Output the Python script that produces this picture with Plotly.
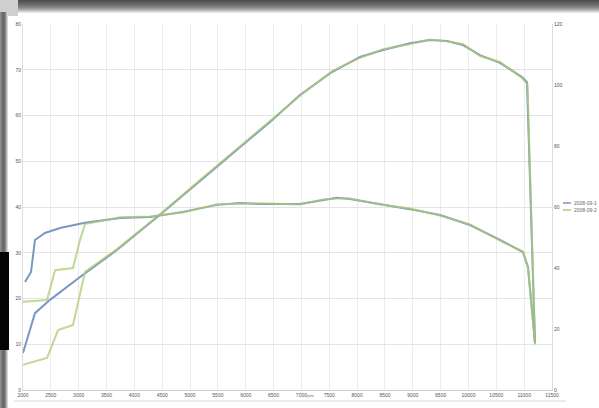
import plotly.graph_objects as go

# ---- data ----
rpm_labels = list(range(2000, 12000, 500))

run1_power_rpm = [2000, 2215, 2485, 3024, 3688, 4460, 5179, 5843, 6436, 6974, 7549, 8052, 8465, 8950, 9309, 9614, 9902, 10207, 10566, 10961, 11051, 11195]
run1_power_hp = [8.1, 16.8, 19.7, 24.7, 30.6, 38.3, 45.7, 52.5, 58.6, 64.5, 69.5, 72.8, 74.3, 75.8, 76.5, 76.3, 75.4, 73.2, 71.5, 68.4, 67.3, 10.3]

run1_torque_rpm = [2036, 2144, 2215, 2395, 2664, 3113, 3742, 4281, 4873, 5484, 5897, 6256, 6974, 7387, 7639, 7872, 8411, 8950, 9489, 10027, 10566, 10979, 11069, 11195]
run1_torque_nm = [35.4, 38.7, 49.2, 51.5, 53.1, 54.8, 56.4, 56.7, 58.4, 60.7, 61.3, 61.0, 61.0, 62.3, 63.0, 62.6, 61.0, 59.3, 57.4, 54.1, 49.2, 45.2, 40.3, 15.4]

run2_power_rpm = [2000, 2431, 2503, 2629, 2898, 3024, 3113, 3688, 4460, 5179, 5843, 6436, 6974, 7549, 8052, 8465, 8950, 9309, 9614, 9902, 10207, 10566, 10961, 11060, 11195]
run2_power_hp = [5.5, 7.0, 9.2, 13.1, 14.2, 20.8, 25.8, 30.8, 38.4, 45.9, 52.6, 58.8, 64.3, 69.7, 72.6, 74.5, 75.6, 76.6, 76.2, 75.6, 73.0, 71.7, 68.2, 66.8, 10.0]

run2_torque_rpm = [2000, 2431, 2575, 2898, 3024, 3113, 3742, 4281, 4873, 5484, 5897, 6256, 6974, 7387, 7639, 7872, 8411, 8950, 9489, 10027, 10566, 10979, 11069, 11195]
run2_torque_nm = [28.9, 29.5, 39.3, 40.0, 49.2, 54.4, 56.6, 56.9, 58.2, 60.9, 61.1, 61.2, 60.8, 62.5, 62.8, 62.8, 60.8, 59.5, 57.2, 54.3, 49.0, 45.4, 40.0, 15.0]

run_names = ["2008-09-1", "2008-09-2"]
run_colors = ["#7a97c6", "#aecb72"]

fig = go.Figure()
fig.add_trace(go.Scatter(x=run1_power_rpm, y=run1_power_hp, mode="lines", name=run_names[0],
                         line=dict(color=run_colors[0], width=2)))
fig.add_trace(go.Scatter(x=run1_torque_rpm, y=run1_torque_nm, mode="lines", name=run_names[0],
                         yaxis="y2", line=dict(color=run_colors[0], width=2)))
fig.add_trace(go.Scatter(x=run2_power_rpm, y=run2_power_hp, mode="lines", name=run_names[1],
                         opacity=0.75, line=dict(color=run_colors[1], width=2)))
fig.add_trace(go.Scatter(x=run2_torque_rpm, y=run2_torque_nm, mode="lines", name=run_names[1],
                         yaxis="y2", opacity=0.75, line=dict(color=run_colors[1], width=2)))

W, H = 599, 408
L, R, T, B = 23, 552, 24, 390


def px(x):
    return (x - L) / (R - L)


def py(y):
    return (B - y) / (B - T)


shapes = []
# top dark strip (photo border), gradient built from thin bands
top_cols = ["#4e4e4e", "#555555", "#5c5c5c", "#636363", "#6b6b6b", "#747474", "#7e7e7e",
            "#8a8a8a", "#989898", "#a8a8a8", "#bcbcbc", "#d2d2d2", "#e8e8e8"]
for i, c in enumerate(top_cols):
    shapes.append(dict(type="rect", xref="paper", yref="paper", x0=px(18), x1=px(W),
                       y0=py(i + 1), y1=py(i), fillcolor=c, line=dict(width=0), layer="below"))
# top-left corner
shapes.append(dict(type="rect", xref="paper", yref="paper", x0=px(0), x1=px(18),
                   y0=py(16), y1=py(0), fillcolor="#cfcfcf", line=dict(width=0), layer="below"))
# left strip gradient
left_cols = ["#8c8c8c", "#7c7c7c", "#6e6e6e", "#666666", "#707070", "#8a8a8a", "#b0b0b0", "#d8d8d8"]
for i, c in enumerate(left_cols):
    shapes.append(dict(type="rect", xref="paper", yref="paper", x0=px(i), x1=px(i + 1),
                       y0=py(H), y1=py(12), fillcolor=c, line=dict(width=0), layer="below"))
# black block on left
shapes.append(dict(type="rect", xref="paper", yref="paper", x0=px(0), x1=px(9),
                   y0=py(350), y1=py(252), fillcolor="#050505", line=dict(width=0), layer="below"))
# bottom line under the chart
shapes.append(dict(type="line", xref="paper", yref="paper", x0=px(14), x1=px(566),
                   y0=py(401), y1=py(401), line=dict(color="#d6d6d6", width=1), layer="below"))

# manual legend (line samples + labels)
annotations = []
for i, (name, col) in enumerate(zip(run_names, run_colors)):
    yy = 203 + 7 * i
    shapes.append(dict(type="line", xref="paper", yref="paper", x0=px(563), x1=px(571),
                       y0=py(yy), y1=py(yy), line=dict(color=col, width=1.5)))
    annotations.append(dict(text=name, xref="paper", yref="paper", x=px(572), y=py(yy),
                            xanchor="left", yanchor="middle", showarrow=False,
                            font=dict(size=5, color="#666666")))
annotations.append(dict(text="rpm", xref="paper", yref="paper", x=px(311), y=py(400),
                        showarrow=False, font=dict(size=4, color="#777777")))

fig.update_layout(
    width=W, height=H,
    margin=dict(l=L, r=W - R, t=T, b=H - B, pad=0, autoexpand=False),
    paper_bgcolor="#ffffff", plot_bgcolor="#ffffff",
    font=dict(family="Liberation Sans, Arial, sans-serif", size=5, color="#555555"),
    showlegend=False,
    xaxis=dict(range=[2000, 11500], tickvals=rpm_labels, ticktext=[str(v) for v in rpm_labels],
               showgrid=True, gridcolor="#ececec", gridwidth=1, zeroline=False,
               showline=True, linecolor="#cfcfcf", ticks="", tickfont=dict(size=5, color="#555555")),
    yaxis=dict(range=[0, 80], dtick=10, showgrid=True, gridcolor="#e4e4e4", zeroline=False,
               showline=True, linecolor="#dddddd", ticks="", tickfont=dict(size=5, color="#555555")),
    yaxis2=dict(range=[0, 120], dtick=20, overlaying="y", side="right", showgrid=False,
                zeroline=False, showline=True, linecolor="#dddddd", ticks="",
                tickfont=dict(size=5, color="#555555")),
    shapes=shapes,
    annotations=annotations,
)

fig.write_html("out.html", config={"displayModeBar": False},
               post_script="document.body.style.margin='0';document.body.style.overflow='hidden';")
